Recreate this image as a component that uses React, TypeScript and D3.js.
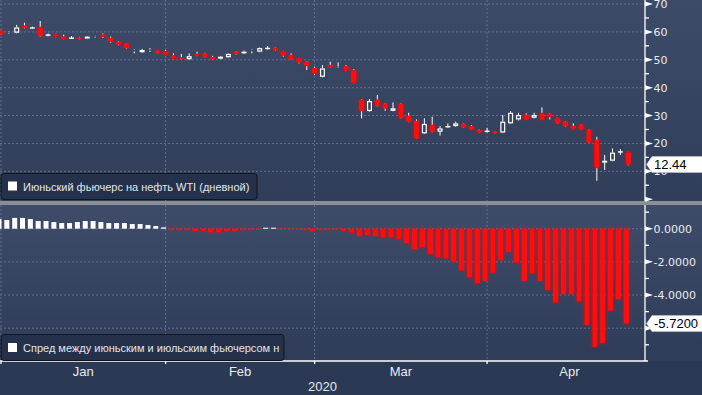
import React from 'react'
import * as d3 from 'd3'

const W = 702
const H = 395

// trading-day index of the first session of each month (Jan 2 = 0), last value = end of April
const months = ['Jan', 'Feb', 'Mar', 'Apr']
const monthStarts = [0, 21, 40, 62, 83]
const yearLabel = '2020'

// June WTI futures, daily OHLC
const opens = [
  60.4, 59.9, 59.7, 62.2, 61.3, 61.6, 58.8, 59.1, 58.3, 57.7, 57.9, 57.6, 58.4, 59.0, 57.8, 56.4,
  55.8, 53.5, 52.7, 53.7, 53.3, 53.0, 51.5, 50.8, 50.2, 52.1, 52.2, 50.9, 50.4, 50.9, 52.8, 52.3,
  53.5, 52.9, 54.0, 54.3, 53.0, 51.7, 50.5, 49.2, 47.0, 43.9, 48.1, 47.6, 47.7, 46.3, 35.6, 31.6,
  35.6, 34.1, 31.7, 34.1, 29.8, 28.0, 23.6, 26.6, 24.2, 25.8, 26.2, 26.9, 26.2, 24.8, 24.3, 24.2,
  23.9, 27.2, 28.6, 30.2, 29.2, 30.8, 30.5, 29.0, 27.8, 26.2, 26.7, 24.8, 21.2, 13.1, 13.8, 16.9,
  16.8
]
const highs = [
  60.6, 60.1, 62.5, 63.3, 61.9, 63.9, 59.4, 59.3, 59.0, 58.5, 58.2, 58.5, 58.6, 59.4, 58.3, 56.7,
  56.0, 53.7, 53.9, 54.2, 53.5, 53.5, 52.3, 52.1, 52.3, 52.9, 52.5, 51.4, 51.3, 52.3, 53.0, 53.3,
  53.7, 54.4, 54.9, 54.5, 53.2, 52.3, 50.7, 49.4, 47.5, 48.1, 49.3, 49.0, 48.1, 46.7, 35.8, 35.9,
  37.4, 34.3, 34.7, 34.3, 31.0, 28.6, 29.0, 29.6, 26.2, 27.2, 27.8, 27.1, 26.6, 25.0, 25.6, 24.4,
  30.2, 31.6, 31.0, 30.8, 31.0, 32.9, 30.7, 29.2, 28.0, 27.2, 26.9, 25.0, 22.4, 15.9, 18.2, 17.9,
  17.0
]
const lows = [
  59.0, 59.3, 59.5, 61.2, 61.2, 58.3, 58.4, 58.1, 57.3, 57.6, 57.1, 57.5, 57.9, 57.8, 56.1, 55.2,
  54.0, 52.3, 52.5, 52.8, 52.1, 51.7, 50.2, 50.0, 50.0, 51.3, 50.9, 50.0, 50.2, 50.7, 51.9, 52.1,
  52.3, 52.7, 53.7, 53.3, 51.1, 50.0, 48.7, 46.3, 44.5, 43.7, 47.3, 47.2, 45.9, 41.6, 29.0, 31.4,
  33.3, 31.7, 31.5, 29.0, 27.6, 21.6, 23.4, 24.0, 22.8, 25.6, 26.0, 25.6, 24.8, 23.7, 23.9, 23.4,
  23.7, 27.0, 28.2, 28.4, 29.0, 28.4, 28.6, 27.0, 26.0, 25.1, 24.8, 20.2, 6.6, 10.5, 13.6, 15.9,
  12.1
]
const closes = [
  59.2, 59.5, 61.6, 61.4, 61.5, 58.6, 58.9, 58.3, 57.4, 57.8, 57.3, 58.3, 58.1, 58.3, 56.6, 55.5,
  54.2, 53.0, 53.5, 53.3, 52.3, 51.9, 50.4, 50.2, 51.3, 51.5, 51.1, 50.2, 51.1, 52.1, 52.1, 52.9,
  53.0, 54.2, 54.1, 53.5, 51.6, 50.2, 49.1, 47.8, 45.1, 46.9, 47.5, 47.4, 46.1, 41.8, 31.7, 35.2,
  33.5, 32.6, 32.6, 29.2, 27.8, 21.8, 27.0, 24.2, 25.4, 26.2, 27.2, 25.8, 25.0, 23.9, 24.4, 23.6,
  27.8, 31.0, 30.2, 28.6, 30.2, 28.6, 29.6, 27.2, 26.2, 25.3, 25.0, 20.4, 11.4, 13.8, 16.7, 17.0,
  12.44
]

// June - July spread
const spread = [
  0.58, 0.52, 0.65, 0.65, 0.58, 0.46, 0.46, 0.40, 0.34, 0.34, 0.40, 0.46, 0.46, 0.40, 0.34, 0.34,
  0.34, 0.28, 0.28, 0.22, 0.16, 0.08, -0.08, -0.08, -0.08, -0.16, -0.16, -0.22, -0.22, -0.16, -0.16, -0.08,
  -0.08, -0.04, 0.02, 0.02, -0.04, -0.04, -0.04, -0.08, -0.16, -0.08, -0.08, -0.08, -0.14, -0.24, -0.44, -0.38,
  -0.44, -0.52, -0.52, -0.64, -0.88, -1.25, -1.13, -1.53, -1.73, -1.79, -1.99, -2.53, -2.94, -3.30, -3.14, -2.65,
  -1.89, -1.39, -2.05, -3.14, -2.69, -3.14, -3.70, -4.46, -3.94, -3.94, -4.40, -5.81, -7.12, -6.91, -4.94, -4.26,
  -5.72
]

const priceTicks = [10, 20, 30, 40, 50, 60, 70]
const priceMinor = [5, 15, 25, 35, 45, 55, 65]
const spreadTicks = [0, -2, -4, -6]
const spreadLabels = ['0.0000', '-2.0000', '-4.0000']
const spreadMinor = [1, -1, -3, -5, -7]

const legendTop = 'Июньский фьючерс на нефть WTI (дневной)'
const legendBottom = 'Спред между июньским и июльским фьючерсом н'

const FONT = '"Liberation Sans", Arial, sans-serif'
const TICK_FONT = '"DejaVu Sans", Verdana, sans-serif'
const RED = '#ff0a0a'
const GRID = '#5d6f8e'
const AXIS_X = 645

export default function App() {
  const x = d3.scaleLinear().domain([0, 80]).range([1, 628.2])
  const yTop = d3.scaleLinear().domain([0, 70]).range([199.2, 4])
  const yBot = d3.scaleLinear().domain([0, -6]).range([228.7, 328.2])
  const barShift = -2
  const bw = 5

  const gridX = monthStarts.slice(0, 4).map(i => x(i))

  const lastPrice = closes[closes.length - 1]
  const lastSpread = spread[spread.length - 1]

  const tag = (y: number, w: number) =>
    `M${AXIS_X + 1.5},${y} L${AXIS_X + 7},${y - 8} L${AXIS_X + 7 + w},${y - 8} L${AXIS_X + 7 + w},${y + 8} L${AXIS_X + 7},${y + 8} Z`

  return (
    <div style={{ position: 'fixed', left: 0, top: 0 }}>
      <svg width={W} height={H} style={{ display: 'block' }}>
        <defs>
          <linearGradient id="bgTop" x1="0" y1="0" x2="0" y2="1">
            <stop offset="0" stopColor="#3e4b68" />
            <stop offset="1" stopColor="#313e5a" />
          </linearGradient>
          <linearGradient id="bgBot" x1="0" y1="0" x2="0" y2="1">
            <stop offset="0" stopColor="#3f4c69" />
            <stop offset="1" stopColor="#2f3c58" />
          </linearGradient>
          <filter id="glow" x="-60%" y="-20%" width="220%" height="140%">
            <feGaussianBlur stdDeviation="1.1" result="b" />
            <feMerge>
              <feMergeNode in="b" />
              <feMergeNode in="SourceGraphic" />
            </feMerge>
          </filter>
          <clipPath id="clipTop"><rect x={0} y={0} width={AXIS_X} height={201} /></clipPath>
          <clipPath id="clipBot"><rect x={0} y={205} width={AXIS_X} height={156} /></clipPath>
        </defs>

        {/* backgrounds */}
        <rect x={0} y={0} width={W} height={H} fill="#2c3954" />
        <rect x={0} y={0} width={W} height={201} fill="url(#bgTop)" />
        <rect x={0} y={205} width={W} height={156} fill="url(#bgBot)" />
        <rect x={0} y={201} width={W} height={4} fill="#8a8e95" />

        {/* grid */}
        <g stroke={GRID} strokeDasharray="2,2" strokeWidth={1}>
          {priceTicks.map(t => (
            <line key={'gt' + t} x1={0} x2={AXIS_X} y1={yTop(t)} y2={yTop(t)} />
          ))}
          {spreadTicks.map(t => (
            <line key={'gb' + t} x1={0} x2={AXIS_X} y1={yBot(t)} y2={yBot(t)} />
          ))}
          {gridX.map((gx, i) => (
            <g key={'gx' + i}>
              <line x1={gx} x2={gx} y1={0} y2={201} />
              <line x1={gx} x2={gx} y1={205} y2={361} />
            </g>
          ))}
        </g>

        {/* candles */}
        <g clipPath="url(#clipTop)">
          {opens.map((o, i) => {
            const c = closes[i]
            const cx = x(i)
            const yo = yTop(o)
            const yc = yTop(c)
            const yh = yTop(highs[i])
            const yl = yTop(lows[i])
            const top = Math.min(yo, yc)
            const bot = Math.max(yo, yc)
            const up = c >= o
            const flat = bot - top < 1.5
            return (
              <g key={'c' + i}>
                <line x1={cx} x2={cx} y1={yh} y2={top} stroke="#fff" strokeWidth={1} />
                <line x1={cx} x2={cx} y1={bot} y2={yl} stroke="#fff" strokeWidth={1} />
                {flat ? (
                  <line x1={cx - bw / 2} x2={cx + bw / 2} y1={(top + bot) / 2} y2={(top + bot) / 2}
                    stroke={up ? '#fff' : RED} strokeWidth={1.4} filter={up ? undefined : 'url(#glow)'} />
                ) : up ? (
                  <rect x={cx - bw / 2 + 0.6} y={top + 0.6} width={bw - 1.2} height={bot - top - 1.2}
                    fill="none" stroke="#fff" strokeWidth={1.2} />
                ) : (
                  <rect x={cx - bw / 2} y={top} width={bw} height={bot - top} fill={RED} filter="url(#glow)" />
                )}
              </g>
            )
          })}
        </g>

        {/* spread bars */}
        <g clipPath="url(#clipBot)">
          {spread.map((v, i) => {
            const bx = x(i) + barShift
            const y0 = yBot(0)
            const yv = yBot(v)
            const h = Math.max(1, Math.abs(yv - y0))
            return v >= 0 ? (
              <rect key={'b' + i} x={bx - bw / 2} y={y0 - h} width={bw} height={h} fill="#fff" />
            ) : (
              <rect key={'b' + i} x={bx - bw / 2} y={y0} width={bw} height={h} fill={RED} filter="url(#glow)" />
            )
          })}
        </g>

        {/* right axes */}
        <g stroke="#fff" strokeWidth={1.3}>
          <line x1={AXIS_X} x2={AXIS_X} y1={0} y2={201} />
          <line x1={AXIS_X} x2={AXIS_X} y1={205} y2={361} />
          <line x1={0} x2={AXIS_X + 3} y1={361} y2={361} />
          {priceMinor.map(t => (
            <line key={'pm' + t} x1={AXIS_X} x2={AXIS_X + 4} y1={yTop(t)} y2={yTop(t)} />
          ))}
          {spreadMinor.map(t => (
            <line key={'sm' + t} x1={AXIS_X} x2={AXIS_X + 4} y1={yBot(t)} y2={yBot(t)} />
          ))}
          {gridX.map((gx, i) => (
            <line key={'xt' + i} x1={gx} x2={gx} y1={361} y2={364} />
          ))}
        </g>
        <g fill="#fff">
          {[0, ...priceTicks].map(t => (
            <path key={'pt' + t} d={`M${AXIS_X},${yTop(t) - 2.5} L${AXIS_X + 8},${yTop(t)} L${AXIS_X},${yTop(t) + 2.5} Z`} />
          ))}
          {spreadTicks.map(t => (
            <path key={'st' + t} d={`M${AXIS_X},${yBot(t) - 2.5} L${AXIS_X + 8},${yBot(t)} L${AXIS_X},${yBot(t) + 2.5} Z`} />
          ))}
        </g>
        <g fill="#e8eaee" fontFamily={TICK_FONT} fontSize={11} dominantBaseline="central">
          {priceTicks.map(t => (
            <text key={'pl' + t} x={AXIS_X + 8.5} y={yTop(t) + 0.5}>{t}</text>
          ))}
          {spreadLabels.map((s, i) => (
            <text key={'sl' + s} x={AXIS_X + 8.5} y={yBot(spreadTicks[i]) + 0.5}>{s}</text>
          ))}
        </g>

        {/* last value tags */}
        <path d={tag(yTop(lastPrice), 60)} fill="#fff" stroke="#ccc" strokeWidth={0.5} />
        <text x={AXIS_X + 9} y={yTop(lastPrice)} fontFamily={FONT} fontSize={13} fill="#000"
          dominantBaseline="central">{lastPrice.toFixed(2)}</text>
        <path d={tag(yBot(lastSpread), 60)} fill="#fff" stroke="#ccc" strokeWidth={0.5} />
        <text x={AXIS_X + 9} y={yBot(lastSpread)} fontFamily={FONT} fontSize={13} fill="#000"
          dominantBaseline="central">{lastSpread.toFixed(4)}</text>

        {/* month labels */}
        <g fill="#e8eaee" fontFamily={FONT} fontSize={13} textAnchor="middle">
          {months.map((m, i) => (
            <text key={m} x={(x(monthStarts[i]) + x(monthStarts[i + 1])) / 2} y={376}>{m}</text>
          ))}
          <text x={AXIS_X / 2} y={391}>{yearLabel}</text>
        </g>

        {/* legends */}
        <rect x={1} y={173.5} width={256} height={26} rx={3} fill="#25304a" stroke="#10151f" strokeWidth={1} />
        <rect x={8} y={181.5} width={9} height={9} fill="#fff" />
        <text x={23} y={186.5} fontFamily={FONT} fontSize={11} fill="#e4e6ea" dominantBaseline="central">{legendTop}</text>

        <rect x={1} y={334.5} width={283} height={26} rx={3} fill="#25304a" stroke="#10151f" strokeWidth={1} />
        <rect x={8} y={343} width={9} height={9} fill="#fff" />
        <text x={23} y={348} fontFamily={FONT} fontSize={11} fill="#e4e6ea" dominantBaseline="central">{legendBottom}</text>
      </svg>
    </div>
  )
}
